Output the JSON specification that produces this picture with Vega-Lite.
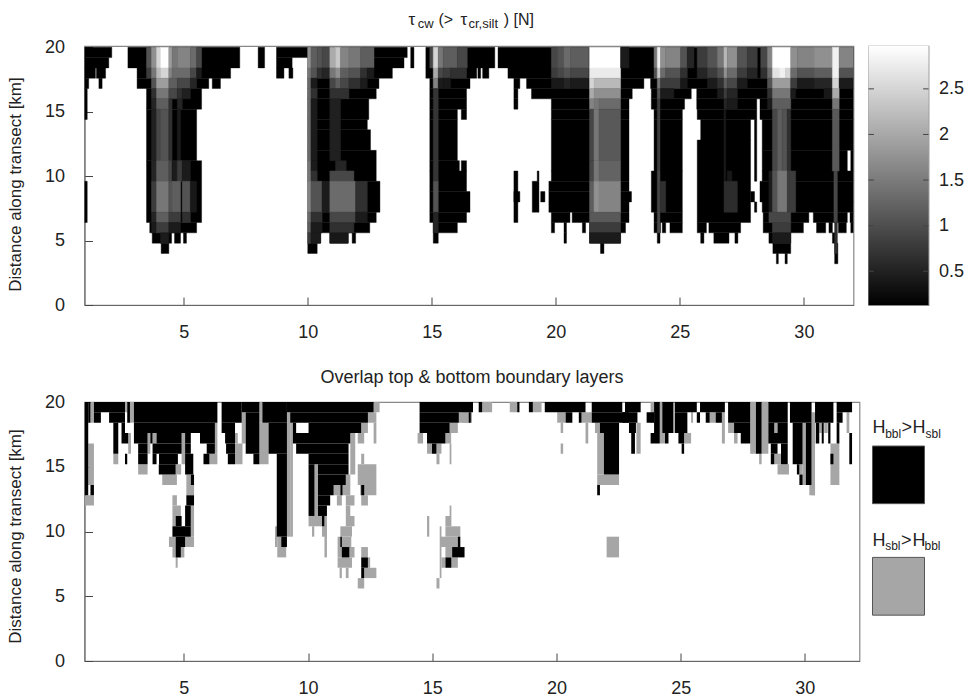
{"$schema":"https://vega.github.io/schema/vega-lite/v6.json","padding":{"left":5.5,"top":10,"right":16,"bottom":5},"background":"white","columns":2,"align":"none","bounds":"flush","spacing":{"row":97,"column":9},
"config":{"view":{"stroke":"#888","strokeWidth":1.2},"font":"Liberation Sans","axis":{"grid":false,"labelFont":"Liberation Sans","labelFontSize":18,"labelColor":"#222","titleFont":"Liberation Sans","titleFontSize":17,"titleFontWeight":"normal","titleColor":"#222","tickColor":"#444","domainColor":"#666","tickSize":-8}},
"datasets":{
"mask":[
{"x":1,"b":2.1,"y":19.2,"t":20},{"x":1,"b":1.98,"y":18.4,"t":19.2},{"x":1,"b":1.44,"y":17.6,"t":18.4},{"x":1.48,"b":1.85,"y":17.6,"t":18.4},{"x":1,"b":1.17,"y":16.8,"t":17.6},{"x":1.58,"b":1.71,"y":16.8,"t":17.6},{"x":1,"b":1.11,"y":14.4,"t":16.8},{"x":1,"b":1.11,"y":6.4,"t":9.6},
{"x":2.75,"b":7.26,"y":18.4,"t":20},{"x":3.12,"b":6.89,"y":17.6,"t":18.4},{"x":3.12,"b":6.01,"y":16.8,"t":17.6},{"x":6.15,"b":6.48,"y":16.8,"t":17.6},{"x":3.5,"b":5.72,"y":15.2,"t":16.8},{"x":3.5,"b":5.52,"y":11.2,"t":15.2},{"x":3.5,"b":5.72,"y":6.4,"t":11.2},{"x":3.63,"b":5.52,"y":5.6,"t":6.4},{"x":3.73,"b":4.51,"y":4.8,"t":5.6},{"x":4.63,"b":4.87,"y":4.8,"t":5.6},{"x":4.99,"b":5.11,"y":4.8,"t":5.6},{"x":4.09,"b":4.4,"y":4,"t":4.8},
{"x":8,"b":8.26,"y":18.4,"t":20},{"x":8.74,"b":10,"y":19.2,"t":20},{"x":8.74,"b":9.37,"y":18.4,"t":19.2},{"x":8.74,"b":9.04,"y":17.6,"t":18.4},{"x":9.24,"b":9.4,"y":17.6,"t":18.4},
{"x":10,"b":14.01,"y":19.2,"t":20},{"x":10,"b":13.88,"y":18.4,"t":19.2},{"x":10,"b":13.41,"y":17.6,"t":18.4},{"x":10,"b":12.87,"y":16.8,"t":17.6},{"x":10,"b":12.76,"y":16,"t":16.8},{"x":10,"b":12.46,"y":14.4,"t":16},{"x":10,"b":12.4,"y":13.6,"t":14.4},{"x":10,"b":12.53,"y":12,"t":13.6},{"x":10,"b":12.76,"y":9.6,"t":12},{"x":10,"b":12.91,"y":7.2,"t":9.6},{"x":10,"b":12.76,"y":6.4,"t":7.2},{"x":10,"b":12.5,"y":5.6,"t":6.4},{"x":10,"b":10.52,"y":4.8,"t":5.6},{"x":10.89,"b":11.63,"y":4.8,"t":5.6},{"x":11.79,"b":11.93,"y":4.8,"t":5.6},{"x":10,"b":10.38,"y":4,"t":4.8},{"x":14.15,"b":14.28,"y":18.4,"t":20},
{"x":14.76,"b":17.54,"y":18.4,"t":20},{"x":17.67,"b":32,"y":18.4,"t":20},
{"x":14.76,"b":16.81,"y":17.6,"t":18.4},{"x":16.86,"b":16.97,"y":17.6,"t":18.4},{"x":17.05,"b":17.3,"y":17.6,"t":18.4},{"x":18.07,"b":32,"y":17.6,"t":18.4},
{"x":14.92,"b":16.54,"y":16.8,"t":17.6},{"x":18.31,"b":18.55,"y":16.8,"t":17.6},{"x":18.82,"b":23.55,"y":16.8,"t":17.6},{"x":23.82,"b":32,"y":16.8,"t":17.6},
{"x":14.92,"b":16.4,"y":16,"t":16.8},{"x":18.31,"b":18.47,"y":16,"t":16.8},{"x":19.02,"b":23.08,"y":16,"t":16.8},{"x":23.85,"b":25.46,"y":16,"t":16.8},{"x":25.68,"b":32,"y":16,"t":16.8},
{"x":14.92,"b":16.4,"y":15.2,"t":16},{"x":18.31,"b":18.47,"y":15.2,"t":16},{"x":19.82,"b":22.95,"y":15.2,"t":16},{"x":23.85,"b":25.19,"y":15.2,"t":16},{"x":25.68,"b":28.1,"y":15.2,"t":16},{"x":28.23,"b":32,"y":15.2,"t":16},
{"x":14.92,"b":16.03,"y":14.4,"t":15.2},{"x":16.19,"b":16.4,"y":14.4,"t":15.2},{"x":19.82,"b":22.95,"y":14.4,"t":15.2},{"x":23.96,"b":25.1,"y":14.4,"t":15.2},{"x":25.7,"b":28.1,"y":14.4,"t":15.2},{"x":28.23,"b":32,"y":14.4,"t":15.2},
{"x":14.92,"b":16.03,"y":11.2,"t":14.4},{"x":19.82,"b":22.95,"y":10.4,"t":14.4},{"x":23.96,"b":25.1,"y":10.4,"t":14.4},{"x":25.84,"b":27.85,"y":12.8,"t":14.4},{"x":25.7,"b":27.85,"y":6.4,"t":12.8},{"x":28.01,"b":28.1,"y":9.6,"t":14.4},{"x":28.32,"b":32,"y":12,"t":14.4},{"x":28.32,"b":31.75,"y":10.4,"t":12},{"x":31.89,"b":32,"y":10.4,"t":12},
{"x":14.92,"b":16.11,"y":10.4,"t":11.2},{"x":16.19,"b":16.4,"y":10.4,"t":11.2},
{"x":14.92,"b":16.4,"y":8.8,"t":10.4},{"x":18.31,"b":18.47,"y":6.4,"t":10.4},{"x":19.25,"b":19.32,"y":9.6,"t":10.4},{"x":19.82,"b":22.95,"y":9.6,"t":10.4},{"x":23.85,"b":25.1,"y":7.2,"t":10.4},{"x":28.32,"b":32,"y":9.6,"t":10.4},
{"x":19.05,"b":19.32,"y":7.2,"t":9.6},{"x":19.72,"b":22.95,"y":8.8,"t":9.6},{"x":28.23,"b":32,"y":8,"t":9.6},{"x":28.01,"b":28.1,"y":7.2,"t":8},
{"x":14.92,"b":16.54,"y":7.2,"t":8.8},{"x":18.31,"b":18.55,"y":8,"t":8.8},{"x":19.39,"b":19.56,"y":8,"t":8.8},{"x":19.72,"b":23.05,"y":8,"t":8.8},{"x":27.85,"b":28.01,"y":8,"t":8.8},
{"x":19.72,"b":22.95,"y":7.2,"t":8},{"x":28.32,"b":32,"y":7.2,"t":8},
{"x":14.92,"b":16.4,"y":6.4,"t":7.2},{"x":19.82,"b":20.57,"y":6.4,"t":7.2},{"x":20.66,"b":22.95,"y":6.4,"t":7.2},{"x":23.96,"b":25.1,"y":6.4,"t":7.2},{"x":28.36,"b":30.2,"y":6.4,"t":7.2},{"x":30.38,"b":31.75,"y":6.4,"t":7.2},{"x":31.86,"b":32,"y":6.4,"t":7.2},
{"x":15.06,"b":16.03,"y":5.6,"t":6.4},{"x":19.82,"b":19.95,"y":5.6,"t":6.4},{"x":20.33,"b":20.43,"y":5.6,"t":6.4},{"x":21.07,"b":21.2,"y":5.6,"t":6.4},{"x":21.36,"b":22.81,"y":5.6,"t":6.4},{"x":23.96,"b":24.22,"y":5.6,"t":6.4},{"x":24.29,"b":24.43,"y":5.6,"t":6.4},{"x":24.6,"b":25.1,"y":5.6,"t":6.4},{"x":25.7,"b":26.07,"y":5.6,"t":6.4},{"x":26.17,"b":27.45,"y":5.6,"t":6.4},{"x":28.36,"b":29.98,"y":5.6,"t":6.4},{"x":30.51,"b":30.88,"y":5.6,"t":6.4},{"x":31.01,"b":31.15,"y":5.6,"t":6.4},{"x":31.39,"b":31.71,"y":5.6,"t":6.4},{"x":31.89,"b":32,"y":5.6,"t":6.4},
{"x":15.06,"b":15.26,"y":4.8,"t":5.6},{"x":20.33,"b":20.43,"y":4.8,"t":5.6},{"x":21.36,"b":22.61,"y":4.8,"t":5.6},{"x":24.09,"b":24.2,"y":4.8,"t":5.6},{"x":25.84,"b":25.97,"y":4.8,"t":5.6},{"x":26.37,"b":26.98,"y":4.8,"t":5.6},{"x":27.22,"b":27.34,"y":4.8,"t":5.6},{"x":28.59,"b":29.47,"y":4.8,"t":5.6},{"x":31.15,"b":31.28,"y":4.8,"t":5.6},
{"x":21.8,"b":21.94,"y":4,"t":4.8},{"x":28.75,"b":29.47,"y":4,"t":4.8},{"x":31.24,"b":31.37,"y":3.2,"t":4.8},{"x":28.89,"b":28.97,"y":3.2,"t":4},{"x":29.24,"b":29.33,"y":3.2,"t":4}
],
"shade":[
{"x":3.5,"b":3.7,"y":18.4,"t":20,"v":1.12},{"x":3.7,"b":3.9,"y":18.4,"t":20,"v":1.82},{"x":3.9,"b":4.06,"y":18.4,"t":20,"v":2.53},{"x":4.06,"b":4.4,"y":18.4,"t":20,"v":2.95},{"x":4.4,"b":4.53,"y":18.4,"t":20,"v":1.96},{"x":4.53,"b":4.74,"y":18.4,"t":20,"v":1.54},{"x":4.74,"b":5.27,"y":18.4,"t":20,"v":1.68},{"x":5.27,"b":5.52,"y":18.4,"t":20,"v":1.4},{"x":5.52,"b":5.72,"y":18.4,"t":20,"v":0.98},
{"x":3.5,"b":3.7,"y":17.6,"t":18.4,"v":0.84},{"x":3.7,"b":3.9,"y":17.6,"t":18.4,"v":1.54},{"x":3.9,"b":4.06,"y":17.6,"t":18.4,"v":2.25},{"x":4.06,"b":4.4,"y":17.6,"t":18.4,"v":2.53},{"x":4.4,"b":4.53,"y":17.6,"t":18.4,"v":1.68},{"x":4.53,"b":5.27,"y":17.6,"t":18.4,"v":1.4},{"x":5.27,"b":5.52,"y":17.6,"t":18.4,"v":0.98},{"x":5.52,"b":5.72,"y":17.6,"t":18.4,"v":0.41},
{"x":3.7,"b":3.9,"y":16.8,"t":17.6,"v":1.12},{"x":3.9,"b":4.4,"y":16.8,"t":17.6,"v":1.96},{"x":4.4,"b":4.74,"y":16.8,"t":17.6,"v":1.26},{"x":4.74,"b":5.27,"y":16.8,"t":17.6,"v":0.98},{"x":5.27,"b":5.52,"y":16.8,"t":17.6,"v":0.55},
{"x":3.7,"b":3.9,"y":16,"t":16.8,"v":0.69},{"x":3.9,"b":4.4,"y":16,"t":16.8,"v":1.54},{"x":4.4,"b":4.74,"y":16,"t":16.8,"v":0.98},{"x":4.74,"b":4.94,"y":16,"t":16.8,"v":0.69},{"x":4.94,"b":5.27,"y":16,"t":16.8,"v":0.47},
{"x":3.7,"b":3.9,"y":15.2,"t":16,"v":0.55},{"x":3.9,"b":4.4,"y":15.2,"t":16,"v":1.26},{"x":4.4,"b":4.53,"y":15.2,"t":16,"v":0.69},{"x":4.74,"b":4.94,"y":15.2,"t":16,"v":0.55},
{"x":3.7,"b":3.9,"y":11.2,"t":15.2,"v":0.47},{"x":3.9,"b":4.06,"y":11.2,"t":15.2,"v":0.98},{"x":4.06,"b":4.4,"y":11.2,"t":15.2,"v":1.12},{"x":4.4,"b":4.53,"y":11.2,"t":15.2,"v":0.69},{"x":4.74,"b":4.87,"y":11.2,"t":15.2,"v":0.41},
{"x":3.7,"b":3.9,"y":9.6,"t":11.2,"v":0.55},{"x":3.9,"b":4.4,"y":9.6,"t":11.2,"v":1.26},{"x":4.4,"b":4.53,"y":9.6,"t":11.2,"v":0.98},{"x":4.53,"b":4.74,"y":9.6,"t":11.2,"v":0.41},{"x":4.74,"b":4.94,"y":9.6,"t":11.2,"v":0.84},{"x":4.94,"b":5.27,"y":9.6,"t":11.2,"v":0.41},
{"x":3.7,"b":3.9,"y":7.2,"t":9.6,"v":0.84},{"x":3.9,"b":4.4,"y":7.2,"t":9.6,"v":1.54},{"x":4.4,"b":4.53,"y":7.2,"t":9.6,"v":1.12},{"x":4.53,"b":4.87,"y":7.2,"t":9.6,"v":1.26},{"x":4.94,"b":5.27,"y":7.2,"t":9.6,"v":1.12},{"x":5.27,"b":5.52,"y":7.2,"t":9.6,"v":0.36},
{"x":3.7,"b":3.9,"y":6.4,"t":7.2,"v":0.55},{"x":3.9,"b":4.4,"y":6.4,"t":7.2,"v":1.26},{"x":4.4,"b":4.53,"y":6.4,"t":7.2,"v":0.84},{"x":4.53,"b":4.87,"y":6.4,"t":7.2,"v":0.84},{"x":4.94,"b":5.27,"y":6.4,"t":7.2,"v":0.69},
{"x":3.7,"b":3.9,"y":5.6,"t":6.4,"v":0.41},{"x":3.9,"b":4.4,"y":5.6,"t":6.4,"v":0.84},{"x":4.4,"b":4.87,"y":5.6,"t":6.4,"v":0.41},{"x":4.06,"b":4.4,"y":4.8,"t":5.6,"v":0.41},
{"x":10,"b":10.13,"y":18.4,"t":20,"v":1.82},{"x":10.13,"b":10.38,"y":18.4,"t":20,"v":1.26},{"x":10.38,"b":10.58,"y":18.4,"t":20,"v":1.12},{"x":10.58,"b":10.89,"y":18.4,"t":20,"v":0.98},{"x":10.89,"b":11.12,"y":18.4,"t":20,"v":2.1},{"x":11.12,"b":11.32,"y":18.4,"t":20,"v":2.39},{"x":11.32,"b":11.66,"y":18.4,"t":20,"v":1.68},{"x":11.66,"b":12.13,"y":18.4,"t":20,"v":1.54},{"x":12.13,"b":12.67,"y":18.4,"t":20,"v":1.26},
{"x":10,"b":10.13,"y":17.6,"t":18.4,"v":1.54},{"x":10.13,"b":10.38,"y":17.6,"t":18.4,"v":1.12},{"x":10.38,"b":10.58,"y":17.6,"t":18.4,"v":0.69},{"x":10.58,"b":10.89,"y":17.6,"t":18.4,"v":0.55},{"x":10.89,"b":11.12,"y":17.6,"t":18.4,"v":1.54},{"x":11.12,"b":11.32,"y":17.6,"t":18.4,"v":1.82},{"x":11.32,"b":11.66,"y":17.6,"t":18.4,"v":1.26},{"x":11.66,"b":12.13,"y":17.6,"t":18.4,"v":1.12},{"x":12.13,"b":12.4,"y":17.6,"t":18.4,"v":0.69},{"x":12.4,"b":12.67,"y":17.6,"t":18.4,"v":0.41},
{"x":10,"b":10.13,"y":16.8,"t":17.6,"v":1.4},{"x":10.13,"b":10.38,"y":16.8,"t":17.6,"v":0.41},{"x":10.89,"b":11.12,"y":16.8,"t":17.6,"v":0.98},{"x":11.12,"b":11.32,"y":16.8,"t":17.6,"v":1.26},{"x":11.32,"b":11.66,"y":16.8,"t":17.6,"v":0.98},{"x":11.66,"b":12.13,"y":16.8,"t":17.6,"v":0.69},{"x":12.13,"b":12.4,"y":16.8,"t":17.6,"v":0.41},
{"x":10,"b":10.13,"y":16,"t":16.8,"v":1.4},{"x":10.13,"b":10.38,"y":16,"t":16.8,"v":0.69},{"x":10.89,"b":11.66,"y":16,"t":16.8,"v":0.69},
{"x":10,"b":10.13,"y":11.2,"t":16,"v":1.4},{"x":10.13,"b":10.38,"y":11.2,"t":16,"v":0.41},{"x":10.89,"b":11.32,"y":11.2,"t":16,"v":0.47},
{"x":10,"b":10.13,"y":9.6,"t":11.2,"v":1.54},{"x":10.13,"b":10.38,"y":10.4,"t":11.2,"v":0.41},{"x":11.12,"b":11.55,"y":10.4,"t":11.2,"v":0.55},{"x":10.13,"b":10.38,"y":9.6,"t":10.4,"v":0.69},{"x":10.89,"b":11.86,"y":9.6,"t":10.4,"v":0.98},
{"x":10,"b":10.13,"y":7.2,"t":9.6,"v":1.68},{"x":10.13,"b":10.58,"y":7.2,"t":9.6,"v":1.12},{"x":10.58,"b":10.89,"y":7.2,"t":9.6,"v":0.41},{"x":10.89,"b":11.93,"y":7.2,"t":9.6,"v":1.4},{"x":11.93,"b":12.4,"y":7.2,"t":9.6,"v":0.69},
{"x":10,"b":10.13,"y":6.4,"t":7.2,"v":1.4},{"x":10.13,"b":10.58,"y":6.4,"t":7.2,"v":0.69},{"x":10.89,"b":11.93,"y":6.4,"t":7.2,"v":0.98},{"x":11.93,"b":12.4,"y":6.4,"t":7.2,"v":0.41},
{"x":10,"b":10.13,"y":5.6,"t":6.4,"v":1.26},{"x":10.13,"b":10.58,"y":5.6,"t":6.4,"v":0.41},{"x":10.89,"b":11.86,"y":5.6,"t":6.4,"v":0.69},{"x":10,"b":10.13,"y":4.8,"t":5.6,"v":0.84},{"x":10.13,"b":10.52,"y":4.8,"t":5.6,"v":0.41},{"x":10.89,"b":11.63,"y":4.8,"t":5.6,"v":0.36},
{"x":14.92,"b":15.06,"y":18.4,"t":20,"v":0.98},{"x":15.06,"b":15.26,"y":18.4,"t":20,"v":2.53},{"x":15.26,"b":15.46,"y":18.4,"t":20,"v":1.54},{"x":15.46,"b":16.03,"y":18.4,"t":20,"v":1.26},{"x":16.03,"b":16.43,"y":18.4,"t":20,"v":0.98},
{"x":15.06,"b":15.26,"y":17.6,"t":18.4,"v":2.1},{"x":15.26,"b":15.46,"y":17.6,"t":18.4,"v":0.98},{"x":15.46,"b":15.76,"y":17.6,"t":18.4,"v":0.84},{"x":15.76,"b":16.4,"y":17.6,"t":18.4,"v":0.69},
{"x":15.06,"b":15.26,"y":16.8,"t":17.6,"v":1.68},{"x":15.26,"b":15.46,"y":16.8,"t":17.6,"v":0.41},{"x":15.46,"b":15.76,"y":16.8,"t":17.6,"v":0.36},
{"x":15.06,"b":15.26,"y":9.6,"t":16.8,"v":0.75},{"x":15.06,"b":15.26,"y":7.2,"t":9.6,"v":1.12},{"x":15.06,"b":15.26,"y":5.6,"t":7.2,"v":0.55},
{"x":19.82,"b":20.06,"y":18.4,"t":20,"v":0.98},{"x":20.06,"b":20.33,"y":18.4,"t":20,"v":1.12},{"x":20.33,"b":20.6,"y":18.4,"t":20,"v":1.4},{"x":20.6,"b":21.33,"y":18.4,"t":20,"v":1.26},
{"x":19.82,"b":20.06,"y":17.6,"t":18.4,"v":0.84},{"x":20.06,"b":20.33,"y":17.6,"t":18.4,"v":0.98},{"x":20.33,"b":20.6,"y":17.6,"t":18.4,"v":1.12},{"x":20.6,"b":21.33,"y":17.6,"t":18.4,"v":0.98},
{"x":19.82,"b":20.33,"y":16.8,"t":17.6,"v":0.38},{"x":20.33,"b":20.6,"y":16.8,"t":17.6,"v":0.55},{"x":20.6,"b":21.33,"y":16.8,"t":17.6,"v":0.41},
{"x":21.36,"b":22.61,"y":18.4,"t":20,"v":2.95},{"x":21.36,"b":22.61,"y":17.6,"t":18.4,"v":2.75},{"x":21.36,"b":21.54,"y":16.8,"t":17.6,"v":2.53},{"x":21.54,"b":22.61,"y":16.8,"t":17.6,"v":2.25},{"x":21.36,"b":21.54,"y":16,"t":16.8,"v":2.1},{"x":21.54,"b":22.61,"y":16,"t":16.8,"v":1.82},{"x":21.36,"b":21.54,"y":15.2,"t":16,"v":1.68},{"x":21.54,"b":21.74,"y":15.2,"t":16,"v":1.54},{"x":21.74,"b":22.61,"y":15.2,"t":16,"v":1.4},
{"x":21.36,"b":21.54,"y":11.2,"t":15.2,"v":0.98},{"x":21.54,"b":21.74,"y":11.2,"t":15.2,"v":1.54},{"x":21.74,"b":22.61,"y":11.2,"t":15.2,"v":1.2},{"x":21.36,"b":21.54,"y":9.6,"t":11.2,"v":0.98},{"x":21.54,"b":21.74,"y":9.6,"t":11.2,"v":1.54},{"x":21.74,"b":22.61,"y":9.6,"t":11.2,"v":1.31},
{"x":21.36,"b":21.54,"y":7.2,"t":9.6,"v":1.26},{"x":21.54,"b":21.74,"y":7.2,"t":9.6,"v":1.82},{"x":21.74,"b":22.61,"y":7.2,"t":9.6,"v":1.68},{"x":21.36,"b":22.61,"y":6.4,"t":7.2,"v":1.2},{"x":21.36,"b":22.61,"y":5.6,"t":6.4,"v":0.84},{"x":21.36,"b":22.61,"y":4.8,"t":5.6,"v":0.41},{"x":22.61,"b":22.95,"y":18.4,"t":20,"v":0.41},
{"x":23.96,"b":24.09,"y":18.4,"t":20,"v":1.54},{"x":24.09,"b":24.22,"y":18.4,"t":20,"v":2.81},{"x":24.22,"b":24.43,"y":18.4,"t":20,"v":1.82},{"x":24.43,"b":25.03,"y":18.4,"t":20,"v":1.68},{"x":25.03,"b":25.3,"y":18.4,"t":20,"v":1.12},{"x":25.3,"b":25.57,"y":18.4,"t":20,"v":0.55},
{"x":23.96,"b":24.09,"y":17.6,"t":18.4,"v":1.12},{"x":24.09,"b":24.22,"y":17.6,"t":18.4,"v":2.39},{"x":24.22,"b":24.43,"y":17.6,"t":18.4,"v":1.4},{"x":24.43,"b":25.03,"y":17.6,"t":18.4,"v":1.12},{"x":25.03,"b":25.3,"y":17.6,"t":18.4,"v":0.69},
{"x":24.09,"b":24.22,"y":16.8,"t":17.6,"v":1.54},{"x":24.22,"b":25.03,"y":16.8,"t":17.6,"v":0.84},{"x":25.03,"b":25.3,"y":16.8,"t":17.6,"v":0.36},{"x":24.09,"b":24.22,"y":16,"t":16.8,"v":1.12},{"x":24.22,"b":24.76,"y":16,"t":16.8,"v":0.41},
{"x":24.09,"b":24.2,"y":10.4,"t":16,"v":0.84},{"x":24.09,"b":24.2,"y":5.6,"t":10.4,"v":0.98},{"x":24.2,"b":24.43,"y":7.2,"t":9.6,"v":0.69},
{"x":25.7,"b":26.11,"y":18.4,"t":20,"v":0.84},{"x":26.11,"b":26.51,"y":18.4,"t":20,"v":1.12},{"x":26.51,"b":26.78,"y":18.4,"t":20,"v":1.54},{"x":26.78,"b":26.91,"y":18.4,"t":20,"v":2.25},{"x":26.91,"b":27.32,"y":18.4,"t":20,"v":1.82},{"x":27.32,"b":27.72,"y":18.4,"t":20,"v":1.12},{"x":27.72,"b":28.12,"y":18.4,"t":20,"v":0.84},
{"x":25.7,"b":26.11,"y":17.6,"t":18.4,"v":0.55},{"x":26.11,"b":26.51,"y":17.6,"t":18.4,"v":0.84},{"x":26.51,"b":26.78,"y":17.6,"t":18.4,"v":1.12},{"x":26.78,"b":26.91,"y":17.6,"t":18.4,"v":1.82},{"x":26.91,"b":27.32,"y":17.6,"t":18.4,"v":1.4},{"x":27.32,"b":27.72,"y":17.6,"t":18.4,"v":0.84},{"x":27.72,"b":28.12,"y":17.6,"t":18.4,"v":0.55},
{"x":26.11,"b":26.51,"y":16.8,"t":17.6,"v":0.41},{"x":26.51,"b":26.78,"y":16.8,"t":17.6,"v":0.69},{"x":26.78,"b":26.91,"y":16.8,"t":17.6,"v":1.26},{"x":26.91,"b":27.32,"y":16.8,"t":17.6,"v":0.98},{"x":27.32,"b":27.72,"y":16.8,"t":17.6,"v":0.41},
{"x":26.51,"b":26.78,"y":16,"t":16.8,"v":0.41},{"x":26.78,"b":26.91,"y":16,"t":16.8,"v":0.84},{"x":26.91,"b":27.32,"y":16,"t":16.8,"v":0.55},{"x":26.78,"b":26.91,"y":15.2,"t":16,"v":0.55},{"x":26.91,"b":27.32,"y":15.2,"t":16,"v":0.41},{"x":26.78,"b":26.85,"y":9.6,"t":15.2,"v":0.41},
{"x":26.91,"b":27.1,"y":9.6,"t":10.4,"v":0.36},{"x":26.78,"b":27.32,"y":7.2,"t":9.6,"v":0.64},
{"x":28.26,"b":28.53,"y":18.4,"t":20,"v":0.98},{"x":28.53,"b":28.73,"y":18.4,"t":20,"v":1.68},{"x":28.73,"b":29.47,"y":18.4,"t":20,"v":2.95},{"x":29.47,"b":29.74,"y":18.4,"t":20,"v":1.82},{"x":29.74,"b":30.41,"y":18.4,"t":20,"v":1.68},{"x":30.41,"b":31.15,"y":18.4,"t":20,"v":1.82},{"x":31.15,"b":31.42,"y":18.4,"t":20,"v":2.81},{"x":31.42,"b":31.98,"y":18.4,"t":20,"v":1.68},
{"x":28.26,"b":28.53,"y":17.6,"t":18.4,"v":0.69},{"x":28.53,"b":28.73,"y":17.6,"t":18.4,"v":1.4},{"x":28.73,"b":29,"y":17.6,"t":18.4,"v":2.67},{"x":29,"b":29.27,"y":17.6,"t":18.4,"v":2.81},{"x":29.27,"b":29.47,"y":17.6,"t":18.4,"v":2.53},{"x":29.47,"b":29.74,"y":17.6,"t":18.4,"v":1.4},{"x":29.74,"b":30.41,"y":17.6,"t":18.4,"v":1.12},{"x":30.41,"b":31.15,"y":17.6,"t":18.4,"v":1.26},{"x":31.15,"b":31.42,"y":17.6,"t":18.4,"v":2.81},{"x":31.42,"b":31.98,"y":17.6,"t":18.4,"v":1.12},
{"x":28.53,"b":28.73,"y":16.8,"t":17.6,"v":1.12},{"x":28.73,"b":29.47,"y":16.8,"t":17.6,"v":1.96},{"x":29.47,"b":29.74,"y":16.8,"t":17.6,"v":0.84},{"x":29.74,"b":30.41,"y":16.8,"t":17.6,"v":0.41},{"x":30.41,"b":31.15,"y":16.8,"t":17.6,"v":0.55},{"x":31.15,"b":31.42,"y":16.8,"t":17.6,"v":2.53},{"x":31.42,"b":31.98,"y":16.8,"t":17.6,"v":0.41},
{"x":28.53,"b":28.73,"y":16,"t":16.8,"v":0.69},{"x":28.73,"b":29.47,"y":16,"t":16.8,"v":1.54},{"x":29.47,"b":29.67,"y":16,"t":16.8,"v":0.41},{"x":30.81,"b":31.15,"y":16,"t":16.8,"v":0.36},{"x":31.15,"b":31.42,"y":16,"t":16.8,"v":2.1},
{"x":28.53,"b":28.73,"y":15.2,"t":16,"v":0.41},{"x":28.73,"b":29.47,"y":15.2,"t":16,"v":1.26},{"x":31.15,"b":31.42,"y":15.2,"t":16,"v":1.54},
{"x":28.73,"b":28.93,"y":10.4,"t":15.2,"v":0.98},{"x":28.93,"b":29.13,"y":10.4,"t":15.2,"v":1.26},{"x":29.13,"b":29.33,"y":10.4,"t":15.2,"v":1.12},{"x":29.33,"b":29.47,"y":10.4,"t":15.2,"v":0.69},{"x":31.15,"b":31.42,"y":10.4,"t":15.2,"v":1.2},
{"x":28.59,"b":28.73,"y":7.2,"t":10.4,"v":0.41},{"x":28.73,"b":28.93,"y":7.2,"t":10.4,"v":1.12},{"x":28.93,"b":29.33,"y":7.2,"t":10.4,"v":1.54},{"x":29.33,"b":29.67,"y":7.2,"t":10.4,"v":0.84},{"x":31.21,"b":31.35,"y":6.4,"t":10.4,"v":0.98},
{"x":28.59,"b":29.47,"y":6.4,"t":7.2,"v":0.98},{"x":28.73,"b":29.47,"y":5.6,"t":6.4,"v":0.84},{"x":28.73,"b":29.47,"y":4.8,"t":5.6,"v":0.41},{"x":31.24,"b":31.35,"y":4,"t":6.4,"v":0.69}
],
"sbl":[
{"x":1.24,"b":1.38,"y":18.4,"t":20},{"x":1.15,"b":1.38,"y":13.6,"t":16.8},{"x":1.01,"b":1.38,"y":12,"t":12.8},{"x":2.16,"b":2.36,"y":15.2,"t":16},{"x":2.63,"b":2.72,"y":19.2,"t":20},{"x":2.83,"b":2.99,"y":18.4,"t":20},{"x":2.76,"b":2.87,"y":16,"t":17.6},{"x":3.54,"b":3.65,"y":16,"t":17.6},{"x":3.74,"b":3.9,"y":16.8,"t":17.6},{"x":3.16,"b":3.54,"y":14.4,"t":15.2},{"x":4.91,"b":5.05,"y":15.2,"t":17.6},{"x":4.67,"b":4.89,"y":14.4,"t":15.2},{"x":4.13,"b":4.72,"y":13.6,"t":14.4},{"x":5.1,"b":5.41,"y":12.8,"t":13.6},{"x":5.1,"b":5.28,"y":13.6,"t":14.4},{"x":4.54,"b":4.72,"y":12,"t":12.8},{"x":4.54,"b":4.88,"y":11.2,"t":12},{"x":4.54,"b":4.67,"y":10.4,"t":11.2},{"x":5.28,"b":5.41,"y":9.6,"t":12},{"x":4.4,"b":4.67,"y":8.8,"t":9.6},{"x":5.05,"b":5.41,"y":8.8,"t":9.6},{"x":4.54,"b":4.67,"y":8,"t":8.8},{"x":4.88,"b":5.02,"y":8,"t":8.8},{"x":4.67,"b":4.75,"y":7.2,"t":8},
{"x":6.03,"b":6.35,"y":15.2,"t":16},{"x":6.25,"b":6.35,"y":16,"t":18.4},{"x":7.06,"b":7.36,"y":15.2,"t":16.8},{"x":7.06,"b":7.17,"y":16.8,"t":17.6},{"x":7.33,"b":7.49,"y":16.8,"t":19.2},{"x":8.04,"b":8.41,"y":15.2,"t":18.4},{"x":8.04,"b":8.16,"y":18.4,"t":20},{"x":9.15,"b":9.28,"y":9.6,"t":19.2},{"x":9.28,"b":9.39,"y":9.6,"t":18.4},{"x":8.67,"b":8.76,"y":8.8,"t":10.4},{"x":8.76,"b":8.92,"y":8.8,"t":9.6},{"x":8.76,"b":9.12,"y":8,"t":8.8},
{"x":10.26,"b":10.4,"y":11.2,"t":15.2},{"x":10.02,"b":10.56,"y":10.4,"t":11.2},{"x":10.16,"b":10.25,"y":9.6,"t":10.4},{"x":10.56,"b":10.76,"y":9.6,"t":10.4},{"x":10.66,"b":10.76,"y":8,"t":11.2},{"x":11.03,"b":11.3,"y":12.8,"t":13.6},{"x":11.16,"b":11.36,"y":12,"t":12.8},{"x":11.39,"b":11.7,"y":12.8,"t":13.6},{"x":11.52,"b":11.87,"y":12,"t":12.8},{"x":11.52,"b":11.7,"y":11.2,"t":12},{"x":11.52,"b":11.87,"y":10.4,"t":11.2},{"x":11.3,"b":11.77,"y":9.6,"t":10.4},{"x":11.19,"b":11.74,"y":8.8,"t":9.6},{"x":11.19,"b":11.87,"y":8,"t":8.8},{"x":11.19,"b":11.77,"y":7.2,"t":8},{"x":11.27,"b":11.36,"y":6.4,"t":7.2},{"x":11.52,"b":11.63,"y":6.4,"t":7.2},{"x":11.7,"b":11.9,"y":14.4,"t":17.6},{"x":11.52,"b":11.7,"y":13.6,"t":14.4},
{"x":12.41,"b":12.75,"y":18.4,"t":19.2},{"x":12.64,"b":12.88,"y":19.2,"t":20},{"x":12.14,"b":12.41,"y":17.6,"t":18.4},{"x":12,"b":12.26,"y":16.8,"t":17.6},{"x":12.64,"b":12.75,"y":16.8,"t":18.4},{"x":12.14,"b":12.26,"y":15.2,"t":16},{"x":12,"b":12.75,"y":13.6,"t":15.2},{"x":12.1,"b":12.75,"y":12.8,"t":13.6},{"x":12.14,"b":12.41,"y":12,"t":12.8},{"x":12.14,"b":12.41,"y":8,"t":8.8},{"x":12.41,"b":12.5,"y":7.2,"t":8},{"x":12.26,"b":12.75,"y":6.4,"t":7.2},{"x":12,"b":12.26,"y":5.6,"t":6.4},
{"x":16.07,"b":16.6,"y":18.4,"t":19.2},{"x":15.7,"b":16.03,"y":17.6,"t":18.4},{"x":14.41,"b":14.63,"y":16.8,"t":17.6},{"x":15.53,"b":15.76,"y":16.8,"t":17.6},{"x":14.79,"b":14.99,"y":16,"t":16.8},{"x":15.17,"b":15.37,"y":16,"t":16.8},{"x":15.17,"b":15.29,"y":15.2,"t":16},{"x":15.7,"b":15.77,"y":15.2,"t":16.8},{"x":14.79,"b":14.88,"y":9.6,"t":11.2},{"x":15.7,"b":15.77,"y":11.2,"t":12},{"x":15.53,"b":15.77,"y":10.4,"t":11.2},{"x":15.53,"b":16.13,"y":9.6,"t":10.4},{"x":15.33,"b":16.03,"y":8.8,"t":9.6},{"x":15.53,"b":15.8,"y":8,"t":8.8},{"x":15.37,"b":15.53,"y":7.2,"t":8},{"x":15.77,"b":16.03,"y":7.2,"t":8},{"x":15.3,"b":15.37,"y":6.4,"t":10.4},{"x":15.17,"b":15.29,"y":5.6,"t":6.4},
{"x":16.2,"b":16.47,"y":18.4,"t":19.2},{"x":17.01,"b":17.41,"y":19.2,"t":20},{"x":18.12,"b":18.42,"y":19.2,"t":20},{"x":19.05,"b":19.4,"y":19.2,"t":20},{"x":20.03,"b":20.37,"y":18.4,"t":19.2},{"x":20.17,"b":20.27,"y":17.6,"t":18.4},{"x":20.17,"b":20.27,"y":16,"t":16.8},{"x":21.01,"b":21.42,"y":18.4,"t":19.2},{"x":21.17,"b":21.28,"y":16.8,"t":18.4},{"x":21.55,"b":21.75,"y":17.6,"t":18.4},{"x":21.64,"b":21.91,"y":14.4,"t":17.6},{"x":21.64,"b":22.52,"y":13.6,"t":14.4},{"x":23.22,"b":23.39,"y":16,"t":18.4},{"x":23.79,"b":23.93,"y":18.4,"t":20},{"x":24.16,"b":24.37,"y":16.8,"t":17.6},{"x":24.16,"b":24.26,"y":17.6,"t":20},{"x":25.14,"b":25.42,"y":16.8,"t":17.6},{"x":25.42,"b":25.5,"y":18.4,"t":19.2},{"x":26.17,"b":26.41,"y":18.4,"t":19.2},{"x":26.66,"b":26.78,"y":16.8,"t":19.2},{"x":26.91,"b":27.15,"y":17.6,"t":18.4},{"x":27.15,"b":27.29,"y":16.8,"t":17.6},{"x":27.8,"b":28.03,"y":16,"t":20},{"x":28.26,"b":28.53,"y":16,"t":20},{"x":28.16,"b":28.26,"y":15.2,"t":16},{"x":28.77,"b":28.9,"y":17.6,"t":18.4},{"x":28.77,"b":29.04,"y":15.2,"t":16},{"x":28.9,"b":29.36,"y":14.4,"t":15.2},{"x":29.91,"b":30.04,"y":13.6,"t":18.4},{"x":29.78,"b":29.91,"y":14.4,"t":15.2},{"x":30.27,"b":30.41,"y":12.8,"t":19.2},{"x":30.18,"b":30.41,"y":12.8,"t":13.6},{"x":30.58,"b":30.68,"y":17.6,"t":18.4},{"x":30.78,"b":30.92,"y":17.6,"t":18.4},{"x":31.03,"b":31.39,"y":13.6,"t":16.8},{"x":31.68,"b":31.79,"y":17.6,"t":19.2},{"x":22.02,"b":22.52,"y":8,"t":9.6}
],
"bbl":[
{"x":1.01,"b":1.15,"y":12.8,"t":20},{"x":1.15,"b":1.24,"y":18.4,"t":20},{"x":1.24,"b":1.38,"y":12.8,"t":13.6},{"x":1.38,"b":2.63,"y":19.2,"t":20},{"x":1.38,"b":1.66,"y":18.4,"t":19.2},{"x":1.99,"b":2.63,"y":18.4,"t":19.2},{"x":2.16,"b":2.36,"y":16,"t":18.4},{"x":2.49,"b":2.63,"y":16.8,"t":18.4},{"x":2.63,"b":2.76,"y":16.8,"t":17.6},{"x":2.63,"b":2.72,"y":15.2,"t":16},{"x":2.72,"b":2.83,"y":18.4,"t":20},
{"x":2.99,"b":6.35,"y":18.4,"t":20},{"x":2.99,"b":6.25,"y":17.6,"t":18.4},{"x":2.99,"b":3.54,"y":16.8,"t":17.6},{"x":3.65,"b":3.74,"y":16.8,"t":17.6},{"x":3.9,"b":4.91,"y":16.8,"t":17.6},{"x":5.05,"b":5.28,"y":16.8,"t":17.6},{"x":5.65,"b":6.25,"y":16.8,"t":17.6},{"x":3.16,"b":3.54,"y":16,"t":16.8},{"x":3.74,"b":4.91,"y":16,"t":16.8},{"x":5.05,"b":5.28,"y":16,"t":16.8},{"x":5.92,"b":6.25,"y":16,"t":16.8},{"x":3.16,"b":3.54,"y":15.2,"t":16},{"x":3.74,"b":3.9,"y":15.2,"t":16},{"x":4,"b":4.76,"y":15.2,"t":16},{"x":5.05,"b":5.38,"y":14.4,"t":16},{"x":5.79,"b":6.03,"y":15.2,"t":16},{"x":3.99,"b":4.67,"y":14.4,"t":15.2},{"x":5.28,"b":5.41,"y":13.6,"t":14.4},{"x":5.1,"b":5.41,"y":12,"t":12.8},{"x":5.05,"b":5.28,"y":10.4,"t":12},{"x":4.67,"b":4.91,"y":10.4,"t":11.2},{"x":4.54,"b":5.28,"y":9.6,"t":10.4},{"x":4.67,"b":5.05,"y":8.8,"t":9.6},{"x":4.67,"b":4.88,"y":8,"t":8.8},
{"x":6.52,"b":7.33,"y":18.4,"t":20},{"x":6.52,"b":7.06,"y":17.6,"t":18.4},{"x":6.66,"b":7.06,"y":16.8,"t":17.6},{"x":6.7,"b":7.06,"y":16,"t":16.8},{"x":6.77,"b":7.06,"y":15.2,"t":16},{"x":7.33,"b":8.04,"y":19.2,"t":20},{"x":7.49,"b":8.04,"y":16,"t":19.2},{"x":7.8,"b":8.04,"y":15.2,"t":16},{"x":8.16,"b":9.15,"y":18.4,"t":20},{"x":8.41,"b":9.15,"y":16,"t":18.4},{"x":8.74,"b":9.15,"y":9.6,"t":16},{"x":8.92,"b":9.15,"y":8.8,"t":9.6},
{"x":9.15,"b":12.64,"y":19.2,"t":20},{"x":9.28,"b":12.41,"y":18.4,"t":19.2},{"x":9.39,"b":9.52,"y":17.6,"t":18.4},{"x":10.02,"b":12.14,"y":17.6,"t":18.4},{"x":9.39,"b":11.7,"y":16.8,"t":17.6},{"x":9.52,"b":11.63,"y":16,"t":16.8},{"x":10.02,"b":11.63,"y":15.2,"t":16},{"x":10.02,"b":10.26,"y":11.2,"t":15.2},{"x":10.4,"b":11.63,"y":14.4,"t":15.2},{"x":10.4,"b":11.52,"y":13.6,"t":14.4},{"x":10.4,"b":11.03,"y":12.8,"t":13.6},{"x":11.3,"b":11.39,"y":12.8,"t":13.6},{"x":10.4,"b":10.89,"y":12,"t":12.8},{"x":10.4,"b":10.76,"y":11.2,"t":12},{"x":10.56,"b":10.66,"y":10.4,"t":11.2},{"x":11.3,"b":11.36,"y":8.8,"t":9.6},{"x":11.36,"b":11.66,"y":8,"t":8.8},{"x":12.14,"b":12.26,"y":12.8,"t":13.6},{"x":12.14,"b":12.41,"y":7.2,"t":8},{"x":12.14,"b":12.26,"y":6.4,"t":7.2},
{"x":14.49,"b":16.64,"y":19.2,"t":20},{"x":14.49,"b":16.07,"y":18.4,"t":19.2},{"x":14.49,"b":15.7,"y":17.6,"t":18.4},{"x":14.79,"b":15.53,"y":16.8,"t":17.6},{"x":14.99,"b":15.17,"y":16,"t":16.8},{"x":16.03,"b":16.13,"y":8.8,"t":9.6},{"x":15.8,"b":16.3,"y":8,"t":8.8},{"x":15.53,"b":15.77,"y":7.2,"t":8},
{"x":16.47,"b":16.55,"y":18.4,"t":19.2},{"x":16.87,"b":17.01,"y":19.2,"t":20},{"x":18.42,"b":18.51,"y":19.2,"t":20},{"x":18.89,"b":19.05,"y":19.2,"t":20},{"x":19.53,"b":21.17,"y":19.2,"t":20},{"x":20.37,"b":20.64,"y":18.4,"t":19.2},{"x":20.9,"b":21.01,"y":18.4,"t":19.2},{"x":21.42,"b":22.65,"y":19.2,"t":20},{"x":21.42,"b":22.92,"y":18.4,"t":19.2},{"x":21.75,"b":22.52,"y":17.6,"t":18.4},{"x":21.91,"b":22.52,"y":14.4,"t":17.6},{"x":21.64,"b":21.75,"y":12.8,"t":13.6},{"x":22.76,"b":23.39,"y":19.2,"t":20},{"x":22.65,"b":23.26,"y":18.4,"t":19.2},{"x":22.92,"b":23.2,"y":17.6,"t":18.4},{"x":23.01,"b":23.16,"y":16,"t":17.6},
{"x":23.93,"b":24.16,"y":17.6,"t":20},{"x":23.63,"b":23.93,"y":18.4,"t":19.2},{"x":23.79,"b":24.16,"y":16.8,"t":17.6},{"x":24.37,"b":24.51,"y":16.8,"t":17.6},{"x":24.26,"b":24.71,"y":17.6,"t":20},{"x":24.76,"b":25.65,"y":19.2,"t":20},{"x":24.76,"b":25.27,"y":17.6,"t":19.2},{"x":24.91,"b":25.14,"y":16.8,"t":17.6},{"x":25.04,"b":25.14,"y":16,"t":16.8},{"x":25.65,"b":25.78,"y":18.4,"t":19.2},{"x":25.78,"b":26.78,"y":19.2,"t":20},{"x":26.01,"b":26.17,"y":18.4,"t":19.2},{"x":26.41,"b":26.66,"y":18.4,"t":19.2},{"x":26.91,"b":27.8,"y":18.4,"t":20},{"x":27.15,"b":27.8,"y":17.6,"t":18.4},{"x":27.42,"b":27.8,"y":16.8,"t":17.6},{"x":28.03,"b":28.26,"y":16,"t":20},
{"x":28.53,"b":29.31,"y":18.4,"t":20},{"x":28.53,"b":28.77,"y":17.6,"t":18.4},{"x":28.9,"b":29.31,"y":17.6,"t":18.4},{"x":28.53,"b":29.31,"y":16.8,"t":17.6},{"x":28.63,"b":28.9,"y":16,"t":16.8},{"x":29.04,"b":29.31,"y":15.2,"t":16.8},{"x":28.63,"b":28.77,"y":15.2,"t":16},{"x":29.4,"b":30.27,"y":18.4,"t":20},{"x":29.51,"b":29.91,"y":15.2,"t":18.4},{"x":30.04,"b":30.27,"y":13.6,"t":18.4},{"x":29.68,"b":29.78,"y":14.4,"t":15.2},{"x":29.78,"b":29.91,"y":13.6,"t":14.4},{"x":30.41,"b":31.15,"y":18.4,"t":20},{"x":30.44,"b":30.58,"y":16.8,"t":18.4},{"x":30.68,"b":30.76,"y":16.8,"t":18.4},{"x":30.94,"b":31.03,"y":16.8,"t":18.4},{"x":31.28,"b":31.9,"y":19.2,"t":20},{"x":31.28,"b":31.52,"y":18.4,"t":19.2},{"x":31.28,"b":31.39,"y":16.8,"t":18.4},{"x":31.03,"b":31.15,"y":15.2,"t":16},{"x":31.79,"b":31.9,"y":15.2,"t":17.6}
]},
"concat":[
{"width":769,"height":259,"layer":[
{"data":{"name":"mask"},"mark":{"type":"rect","fill":"#000","stroke":"#000","strokeWidth":0.4,"clip":true},"encoding":{"x":{"field":"x","type":"quantitative","scale":{"domain":[1,32],"nice":false,"zero":false},"axis":{"values":[5,10,15,20,25,30],"title":null,"labelPadding":26}},"x2":{"field":"b"},"y":{"field":"y","type":"quantitative","scale":{"domain":[0,20.1],"nice":false},"title":"Distance along transect [km]","axis":{"values":[0,5,10,15,20],"labelPadding":28,"titlePadding":20,"titleY":138}},"y2":{"field":"t"}}},
{"data":{"name":"shade"},"mark":{"type":"rect","strokeWidth":0.5,"clip":true},"encoding":{"x":{"field":"x","type":"quantitative","title":null},"x2":{"field":"b"},"y":{"field":"y","type":"quantitative","title":"Distance along transect [km]"},"y2":{"field":"t"},"fill":{"field":"v","type":"quantitative","scale":{"domain":[0.13,2.95],"range":["#000","#fff"]},"legend":null},"stroke":{"field":"v","type":"quantitative","scale":{"domain":[0.13,2.95],"range":["#000","#fff"]},"legend":null}}},
{"data":{"values":[{"x":14.06,"y":21.76,"s":"τ","z":17},{"x":14.43,"y":21.5,"s":"cw","z":13},{"x":15.27,"y":21.76,"s":"(>","z":16},{"x":16.16,"y":21.76,"s":"τ","z":17},{"x":16.48,"y":21.5,"s":"cr,silt","z":13},{"x":17.9,"y":21.76,"s":") [N]","z":16}]},"mark":{"type":"text","align":"left","baseline":"alphabetic","font":"Liberation Sans","color":"#222"},"encoding":{"x":{"field":"x","type":"quantitative","title":null},"y":{"field":"y","type":"quantitative","title":"Distance along transect [km]"},"text":{"field":"s"},"size":{"field":"z","type":"quantitative","scale":null}}}
]},
{"width":60,"height":259,"layer":[
{"data":{"values":[{"x":0,"b":1,"y":0.13,"t":2.97}]},"mark":{"type":"rect","fill":{"gradient":"linear","x1":0,"y1":1,"x2":0,"y2":0,"stops":[{"offset":0,"color":"#000"},{"offset":1,"color":"#fff"}]}},"encoding":{"x":{"field":"x","type":"quantitative","scale":{"domain":[0,1],"nice":false,"zero":false},"axis":null},"x2":{"field":"b"},"y":{"field":"y","type":"quantitative","scale":{"domain":[0.13,2.97],"nice":false,"zero":false},"axis":{"orient":"right","values":[0.5,1,1.5,2,2.5],"format":".2~f","title":null,"labelPadding":10,"ticks":false,"domain":false}},"y2":{"field":"t"}}},
{"data":{"values":[{"x":0,"b":0.09,"y":0.5},{"x":0,"b":0.09,"y":1},{"x":0,"b":0.09,"y":1.5},{"x":0,"b":0.09,"y":2},{"x":0,"b":0.09,"y":2.5},{"x":0.91,"b":1,"y":0.5},{"x":0.91,"b":1,"y":1},{"x":0.91,"b":1,"y":1.5},{"x":0.91,"b":1,"y":2},{"x":0.91,"b":1,"y":2.5}]},"mark":{"type":"rule","color":"#444"},"encoding":{"x":{"field":"x","type":"quantitative","title":null},"x2":{"field":"b"},"y":{"field":"y","type":"quantitative","title":null}}}
]},
{"width":775,"height":259,"title":{"text":"Overlap top & bottom boundary layers","font":"Liberation Sans","fontSize":18,"fontWeight":"normal","color":"#222","offset":6},"layer":[
{"data":{"name":"sbl"},"mark":{"type":"rect","fill":"#a6a6a6","clip":true},"encoding":{"x":{"field":"x","type":"quantitative","scale":{"domain":[1,32.2],"nice":false,"zero":false},"axis":{"values":[5,10,15,20,25,30],"title":null,"labelPadding":26}},"x2":{"field":"b"},"y":{"field":"y","type":"quantitative","scale":{"domain":[0,20],"nice":false},"title":"Distance along transect [km]","axis":{"values":[0,5,10,15,20],"labelPadding":28,"titlePadding":20,"titleY":134}},"y2":{"field":"t"}}},
{"data":{"name":"bbl"},"mark":{"type":"rect","fill":"#000","clip":true},"encoding":{"x":{"field":"x","type":"quantitative","title":null},"x2":{"field":"b"},"y":{"field":"y","type":"quantitative","title":"Distance along transect [km]"},"y2":{"field":"t"}}}
]},
{"width":74,"height":259,"view":{"stroke":null},"layer":[
{"data":{"values":[{"x":0,"b":52,"y":12.15,"t":16.6,"c":"Hbbl>Hsbl"},{"x":0,"b":52,"y":3.54,"t":8,"c":"Hsbl>Hbbl"}]},"mark":{"type":"rect","stroke":"#555","strokeWidth":1},"encoding":{"x":{"field":"x","type":"quantitative","scale":{"domain":[-4,70],"nice":false,"zero":false},"axis":null},"x2":{"field":"b"},"y":{"field":"y","type":"quantitative","scale":{"domain":[0,20],"nice":false},"axis":null},"y2":{"field":"t"},"fill":{"field":"c","type":"nominal","scale":{"domain":["Hbbl>Hsbl","Hsbl>Hbbl"],"range":["#000","#a6a6a6"]},"legend":null}}},
{"data":{"values":[{"x":0,"y":17.6,"s":"H","z":18},{"x":12.7,"y":17.2,"s":"bbl","z":12},{"x":29,"y":17.6,"s":">","z":18},{"x":40,"y":17.6,"s":"H","z":18},{"x":53,"y":17.2,"s":"sbl","z":12},{"x":0,"y":8.87,"s":"H","z":18},{"x":12.7,"y":8.54,"s":"sbl","z":12},{"x":28.6,"y":8.87,"s":">","z":18},{"x":40,"y":8.87,"s":"H","z":18},{"x":52,"y":8.54,"s":"bbl","z":12}]},"mark":{"type":"text","align":"left","baseline":"alphabetic","font":"Liberation Sans","color":"#222"},"encoding":{"x":{"field":"x","type":"quantitative","title":null},"y":{"field":"y","type":"quantitative","title":null},"text":{"field":"s"},"size":{"field":"z","type":"quantitative","scale":null}}}
]}
]}
